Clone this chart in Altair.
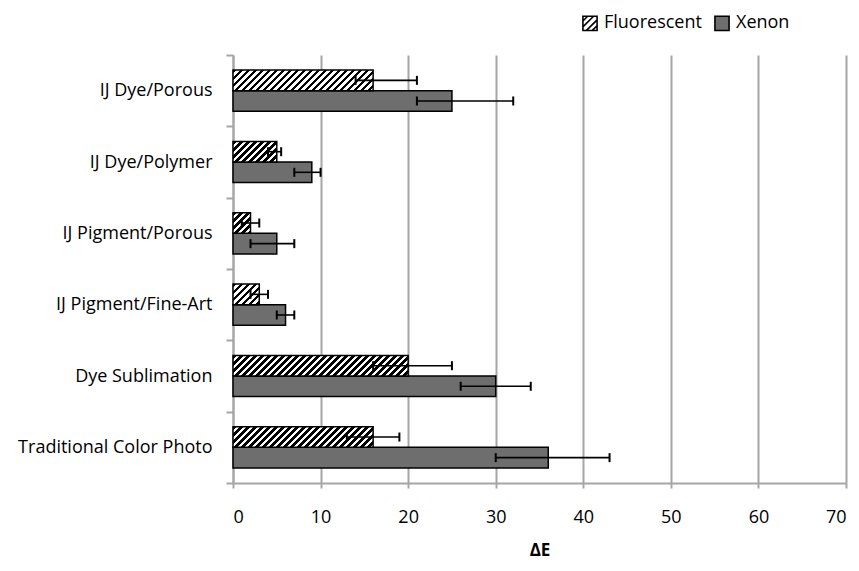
import altair as alt
import pandas as pd

categories = ["IJ Dye/Porous", "IJ Dye/Polymer", "IJ Pigment/Porous",
              "IJ Pigment/Fine-Art", "Dye Sublimation", "Traditional Color Photo"]
series = ["Fluorescent", "Xenon"]

fluor_val = [16, 5, 2, 3, 20, 16]
fluor_lo = [14, 4, 1, 2, 16, 13]
fluor_hi = [21, 5.5, 3, 4, 25, 19]

xenon_val = [25, 9, 5, 6, 30, 36]
xenon_lo = [21, 7, 2, 5, 26, 30]
xenon_hi = [32, 10, 7, 7, 34, 43]

x_ticks = [0, 10, 20, 30, 40, 50, 60, 70]

rows = []
for i, c in enumerate(categories):
    rows.append(dict(cat=c, series="Fluorescent", value=fluor_val[i], lo=fluor_lo[i], hi=fluor_hi[i]))
    rows.append(dict(cat=c, series="Xenon", value=xenon_val[i], lo=xenon_lo[i], hi=xenon_hi[i]))
df = pd.DataFrame(rows)

W, H = 613, 428
FONT = "Open Sans"
GRID = "#a6a6a6"
XENON = "#6e6e6e"

y_enc = alt.Y("cat:N", sort=categories, title=None,
              scale=alt.Scale(paddingInner=0, paddingOuter=0),
              axis=alt.Axis(tickBand="extent", labelFontSize=18, labelFont=FONT,
                            labelColor="#000", labelPadding=14, tickSize=7,
                            tickColor=GRID, domainColor=GRID, domainWidth=2,
                            tickWidth=2, labelLimit=300))
yoff_enc = alt.YOffset("series:N", sort=series,
                       scale=alt.Scale(domain=series, paddingInner=0, paddingOuter=0.73))
x_scale = alt.Scale(domain=[0, 70], nice=False)
x_enc = alt.X("value:Q", scale=x_scale, title="ΔE",
              axis=alt.Axis(values=x_ticks, labelFontSize=18, labelFont=FONT, labelColor="#000",
                            tickSize=5, tickColor=GRID, tickWidth=2, domainColor=GRID, domainWidth=2,
                            gridColor=GRID, gridWidth=2, labelPadding=20,
                            titleFont=FONT, titleFontSize=17, titleFontWeight="bold",
                            titlePadding=16, titleColor="#000"))

base = alt.Chart(df)

xenon = base.transform_filter(alt.datum.series == "Xenon").mark_bar(
    fill=XENON, stroke="#000", strokeWidth=1.5).encode(x=x_enc, y=y_enc, yOffset=yoff_enc)

bar_h = H / 6 * (1 / (2 + 2 * 0.73))
layers = [xenon]
P, B = 7.0, 3.8
for i, c in enumerate(categories):
    w = fluor_val[i] * W / 70.0
    S = w + bar_h
    k = S / (w * w + bar_h * bar_h)
    stops = []
    n = 0
    while n * P < S:
        a = n * P / S
        b = min((n * P + B) / S, 1.0)
        e = min(((n + 1) * P) / S, 1.0)
        stops += [{"offset": a, "color": "#000"}, {"offset": b, "color": "#000"},
                  {"offset": b, "color": "#fff"}, {"offset": e, "color": "#fff"}]
        n += 1
    grad = {"gradient": "linear", "x1": 0, "y1": 0, "x2": k * w, "y2": k * bar_h, "stops": stops}
    layers.append(
        base.transform_filter((alt.datum.series == "Fluorescent") & (alt.datum.cat == c))
        .mark_bar(fill=grad, stroke="#000", strokeWidth=1.5)
        .encode(x=x_enc, y=y_enc, yOffset=yoff_enc)
    )

err = base.mark_rule(color="#000", strokeWidth=1.6).encode(
    x=alt.X("lo:Q", scale=x_scale), x2="hi:Q", y=y_enc, yOffset=yoff_enc)

caps = base.transform_fold(["lo", "hi"], as_=["end", "pos"]).mark_tick(
    color="#000", thickness=2, size=9, opacity=1).encode(
    x=alt.X("pos:Q", scale=x_scale), y=y_enc, yOffset=yoff_enc)

hatch_path = ("M-1,-1H1V1H-1Z M-1,-0.33L-0.33,-1 M-1,0.5L0.5,-1 M-0.5,1L1,-0.5 M0.33,1L1,0.33")
square_path = "M-1,-1H1V1H-1Z"

leg = alt.Legend(title=None, orient="none", legendX=348, legendY=-41, direction="horizontal",
                 columns=2, labelFont=FONT, labelFontSize=18, labelColor="#000",
                 symbolSize=200, symbolStrokeWidth=1.6,
                 symbolOpacity=1, columnPadding=9, labelOffset=5, labelLimit=200)

legend_layer = base.mark_point(filled=True, opacity=0, strokeWidth=1.6).encode(
    x=alt.X("value:Q", scale=x_scale), y=y_enc, yOffset=yoff_enc,
    fill=alt.Fill("series:N", sort=series,
                  scale=alt.Scale(domain=series, range=["#ffffff", XENON]), legend=leg),
    shape=alt.Shape("series:N", sort=series,
                    scale=alt.Scale(domain=series, range=[hatch_path, square_path]), legend=leg),
    stroke=alt.Stroke("series:N", sort=series,
                      scale=alt.Scale(domain=series, range=["#000000", "#000000"]), legend=leg),
)

chart = alt.layer(*layers, err, caps, legend_layer).properties(
    width=W, height=H,
    autosize=alt.AutoSizeParams(type="none"),
    padding={"left": 225, "top": 47, "right": 5, "bottom": 80},
).configure_view(stroke=None).configure_axisX(grid=True).configure_axisY(grid=False)

chart.save("out.html", embed_options={"renderer": "svg", "actions": False})
